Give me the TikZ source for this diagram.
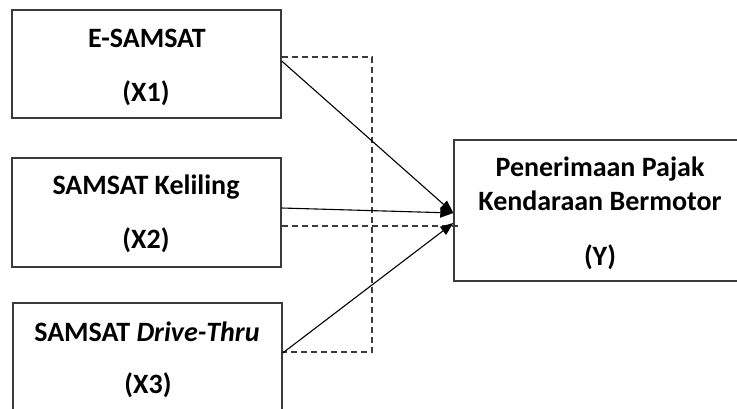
\documentclass[tikz,border=0pt]{standalone}
\usepackage{fontspec}
\setmainfont{Carlito}
\usetikzlibrary{arrows.meta}
\definecolor{boxline}{HTML}{3A3A3A}
\tikzset{
  varbox/.style={draw=boxline, line width=1.4pt, rectangle, inner sep=0pt},
  lbl/.style={font=\fontsize{28}{34}\selectfont\bfseries, inner sep=0pt, anchor=center, align=center},
  arr/.style={draw=black, line width=1.1pt, -{Triangle[length=13pt,width=10pt]}},
  dashline/.style={draw=boxline, line width=1.2pt, dash pattern=on 6pt off 4pt}
}
\begin{document}
\begin{tikzpicture}[x=1pt, y=-1pt]
\useasboundingbox (0,0) rectangle (737,408);
\fill[white] (0,0) rectangle (737,408);
% boxes
\node[varbox, minimum width=269pt, minimum height=108pt] (x1) at (146.5,64) {};
\node[varbox, minimum width=269pt, minimum height=109pt] (x2) at (146.5,212.5) {};
\node[varbox, minimum width=269pt, minimum height=118pt] (x3) at (147.5,362) {};
\node[varbox, minimum width=300pt, minimum height=141pt] (y) at (604,210.5) {};
% labels
\node[lbl] (t1a) at (147,38.5) {E-SAMSAT};
\node[lbl] (t1b) at (146,93) {(X1)};
\node[lbl] (t2a) at (146,187) {SAMSAT Keliling};
\node[lbl] (t2b) at (146,240) {(X2)};
\node[lbl] (t3a) at (147,332) {SAMSAT \textit{Drive-Thru}};
\node[lbl] (t3b) at (148,385) {(X3)};
\node[lbl] (tya) at (600,184) {Penerimaan Pajak\\Kendaraan Bermotor};
\node[lbl] (tyb) at (600,257) {(Y)};
% dashed frame
\coordinate (d1) at (x1.east |- 0,57);
\coordinate (dc1) at (372,57);
\coordinate (dc2) at (372,352);
\coordinate (d3) at (x3.east |- 0,352);
\coordinate (d2) at (x2.east |- 0,226);
\coordinate (d2e) at (460,226);
\draw[dashline] (d1) -- (dc1) -- (dc2) -- (d3);
\draw[dashline] (d2) -- (d2e);
% arrows
\coordinate (a1) at (x1.east |- 0,61);
\coordinate (a2) at (x2.east |- 0,208);
\coordinate (a3) at (x3.east |- 0,353);
\coordinate (e12) at (y.west |- 0,213);
\coordinate (e3) at (y.west |- 0,223);
\draw[arr] (a1) -- (e12);
\draw[arr] (a2) -- (e12);
\draw[arr] (a3) -- (e3);
\end{tikzpicture}
\end{document}
